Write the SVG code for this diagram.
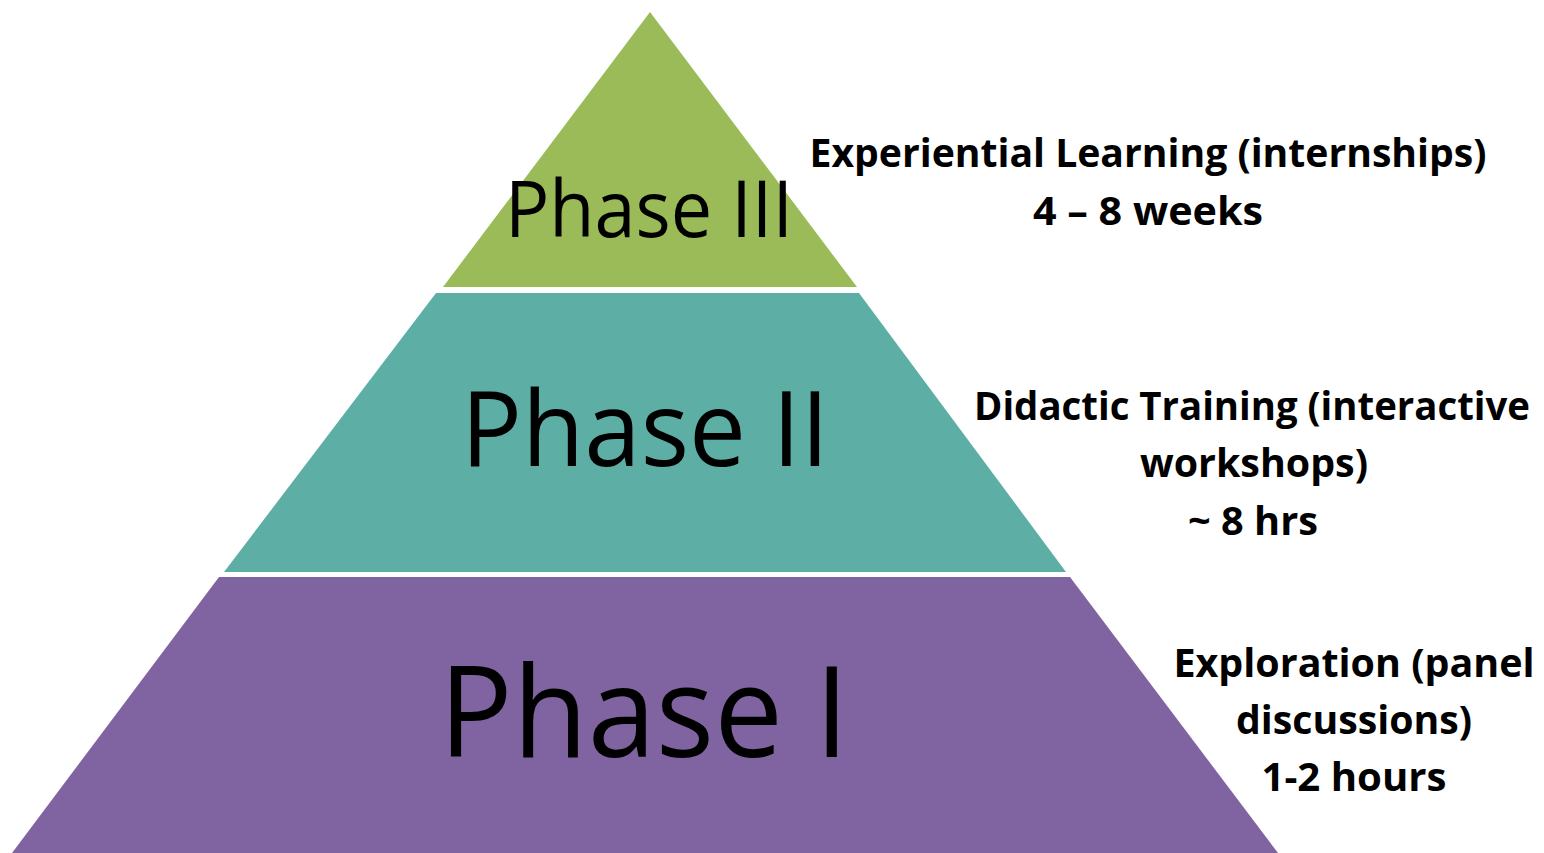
<svg xmlns="http://www.w3.org/2000/svg" width="1544" height="853" viewBox="0 0 1544 853">
<style>
.phase{font-family:"Open Sans","Liberation Sans",sans-serif;fill:#000;text-anchor:middle}
.lbl{font-family:"Open Sans","Liberation Sans",sans-serif;font-weight:bold;font-size:40px;fill:#000;text-anchor:middle}
</style>
<rect width="1544" height="853" fill="#fff"/>
<g id="phase3">
<polygon points="650,12 857,287 443,287" fill="#9BBB59"/>
<text class="phase" x="649" y="237" font-size="78" textLength="288" lengthAdjust="spacingAndGlyphs">Phase III</text>
</g>
<g id="phase2">
<polygon points="436,293 859,293 1066,572 224,572" fill="#5DAFA6"/>
<text class="phase" x="645" y="466" font-size="104" textLength="368" lengthAdjust="spacingAndGlyphs">Phase II</text>
</g>
<g id="phase1">
<polygon points="219,577 1070,577 1278,853 12,853" fill="#8064A1"/>
<text class="phase" x="644" y="757" font-size="127" textLength="410" lengthAdjust="spacingAndGlyphs">Phase I</text>
</g>
<g id="label3">
<text class="lbl" x="1148" y="167" textLength="677" lengthAdjust="spacingAndGlyphs">Experiential Learning (internships)</text>
<text class="lbl" x="1148" y="225" textLength="230" lengthAdjust="spacingAndGlyphs">4 – 8 weeks</text>
</g>
<g id="label2">
<text class="lbl" x="1252" y="420" font-size="38" textLength="556" lengthAdjust="spacingAndGlyphs">Didactic Training (interactive</text>
<text class="lbl" x="1254" y="477" textLength="228" lengthAdjust="spacingAndGlyphs">workshops)</text>
<text class="lbl" x="1253" y="535" textLength="130" lengthAdjust="spacingAndGlyphs">~ 8 hrs</text>
</g>
<g id="label1">
<text class="lbl" x="1354" y="677" textLength="361" lengthAdjust="spacingAndGlyphs">Exploration (panel</text>
<text class="lbl" x="1354" y="734" textLength="236" lengthAdjust="spacingAndGlyphs">discussions)</text>
<text class="lbl" x="1354" y="791" textLength="185" lengthAdjust="spacingAndGlyphs">1-2 hours</text>
</g>
<g id="connectors"/>
</svg>
